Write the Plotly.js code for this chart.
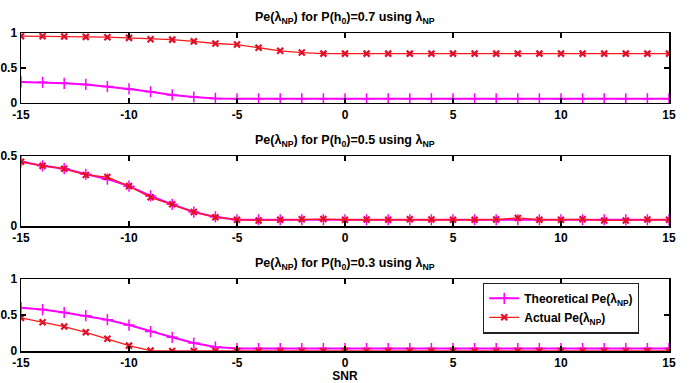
<!DOCTYPE html>
<html>
<head>
<meta charset="utf-8">
<script src="https://cdn.plot.ly/plotly-3.0.1.min.js"></script>
<style>
  html, body { margin: 0; padding: 0; background: #ffffff; }
  #chart { width: 691px; height: 383px; }
</style>
</head>
<body>
<div id="chart"></div>
<script>
// SNR sweep (dB)
const snr = [-15,-14,-13,-12,-11,-10,-9,-8,-7,-6,-5,-4,-3,-2,-1,0,1,2,3,4,5,6,7,8,9,10,11,12,13,14,15];

// P(h0) = 0.7
const theory07 = [0.30,0.295,0.28,0.265,0.235,0.20,0.16,0.115,0.085,0.065,0.06,0.06,0.06,0.06,0.06,0.06,0.06,0.06,0.06,0.06,0.06,0.06,0.06,0.06,0.06,0.06,0.06,0.06,0.06,0.06,0.06];
const actual07 = [0.955,0.955,0.95,0.945,0.94,0.93,0.91,0.905,0.88,0.85,0.835,0.79,0.745,0.72,0.705,0.705,0.705,0.705,0.705,0.705,0.705,0.705,0.705,0.705,0.705,0.705,0.705,0.705,0.705,0.705,0.705];

// P(h0) = 0.5
const theory05 = [0.46,0.43,0.41,0.37,0.335,0.285,0.215,0.155,0.10,0.065,0.045,0.045,0.045,0.045,0.045,0.045,0.045,0.045,0.045,0.045,0.045,0.045,0.045,0.045,0.045,0.045,0.045,0.045,0.045,0.045,0.045];
const actual05 = [0.46,0.43,0.41,0.365,0.35,0.285,0.205,0.155,0.10,0.063,0.045,0.04,0.045,0.048,0.05,0.045,0.046,0.045,0.048,0.046,0.045,0.045,0.046,0.058,0.045,0.045,0.048,0.04,0.04,0.046,0.045];

// P(h0) = 0.3
const theory03 = [0.60,0.575,0.535,0.49,0.435,0.36,0.27,0.19,0.11,0.055,0.035,0.035,0.035,0.035,0.035,0.035,0.035,0.035,0.035,0.035,0.035,0.035,0.035,0.035,0.035,0.035,0.035,0.035,0.035,0.035,0.035];
const actual03 = [0.46,0.40,0.34,0.26,0.17,0.075,0.005,0,0,0,0,0,0,0,0,0,0,0,0,0,0,0,0,0,0,0,0,0,0,0,0];

const xTicks = [-15,-10,-5,0,5,10,15];
const priors = ['0.7','0.5','0.3'];
const theoryName = 'Theoretical Pe(λ<sub>NP</sub>)';
const actualName = 'Actual Pe(λ<sub>NP</sub>)';

const MAGENTA = '#ff00ff';
const RED = '#ff1a1a';
const FONT = 'Liberation Sans, Arial, Helvetica, sans-serif';

function theoryTrace(y, ax, show) {
  return {
    x: snr, y: y, xaxis: 'x' + ax, yaxis: 'y' + ax,
    type: 'scatter', mode: 'lines+markers', name: theoryName, showlegend: show,
    line: { color: MAGENTA, width: 2 },
    marker: { symbol: 'cross-thin', size: 8, line: { color: MAGENTA, width: 1.5 } }
  };
}
function actualTrace(y, ax, show) {
  return {
    x: snr, y: y, xaxis: 'x' + ax, yaxis: 'y' + ax,
    type: 'scatter', mode: 'lines+markers', name: actualName, showlegend: show,
    line: { color: RED, width: 1.3 },
    marker: { symbol: 'x-thin', size: 6, line: { color: '#e0102a', width: 2.2 } }
  };
}

const data = [
  theoryTrace(theory07, '', false), actualTrace(actual07, '', false),
  theoryTrace(theory05, '2', false), actualTrace(actual05, '2', false),
  theoryTrace(theory03, '3', true), actualTrace(actual03, '3', true)
];

const tickFont = { family: FONT, size: 12, color: '#000', weight: 700 };

function xAxis(anchor, withTitle) {
  const a = {
    anchor: anchor, range: [-15, 15], tickvals: xTicks, ticktext: xTicks.map(String),
    showline: true, mirror: 'ticks', linecolor: '#000', linewidth: 1.5,
    ticks: 'inside', ticklen: 5, tickwidth: 1.2, tickcolor: '#000',
    showgrid: false, zeroline: false, tickfont: tickFont, ticklabelstandoff: 0
  };
  if (withTitle) a.title = { text: 'SNR', font: tickFont, standoff: 1 };
  return a;
}
function yAxis(anchor, domain, maxV, vals) {
  return {
    anchor: anchor, domain: domain, range: [0, maxV], tickvals: vals, ticktext: vals.map(String),
    showline: true, mirror: 'ticks', linecolor: '#000', linewidth: 1.5,
    ticks: 'inside', ticklen: 5, tickwidth: 1.2, tickcolor: '#000',
    showgrid: false, zeroline: false, tickfont: tickFont, ticklabelstandoff: 0
  };
}

const domains = [[0.780, 1.0], [0.393, 0.613], [0.0, 0.2264]];

const annotations = priors.map((p, i) => ({
  text: 'Pe(λ<sub>NP</sub>) for P(h<sub>0</sub>)=' + p + ' using λ<sub>NP</sub>',
  xref: 'paper', yref: 'paper', x: 0.5, y: domains[i][1], yshift: 5,
  xanchor: 'center', yanchor: 'bottom', showarrow: false,
  font: { family: FONT, size: 12.5, color: '#000', weight: 700 }
}));

const layout = {
  width: 691, height: 383,
  margin: { l: 21, r: 22, t: 33, b: 32 },
  paper_bgcolor: '#fff', plot_bgcolor: '#fff',
  font: { family: FONT, size: 12, color: '#000' },
  xaxis: xAxis('y', false), xaxis2: xAxis('y2', false), xaxis3: xAxis('y3', true),
  yaxis: yAxis('x', domains[0], 1, [0, 0.5, 1]),
  yaxis2: yAxis('x2', domains[1], 0.5, [0, 0.5]),
  yaxis3: yAxis('x3', domains[2], 1, [0, 0.5, 1]),
  annotations: annotations,
  showlegend: true,
  legend: {
    x: 0.713, y: 0.215, xanchor: 'left', yanchor: 'top',
    bgcolor: '#fff', bordercolor: '#222', borderwidth: 1.2,
    font: { family: FONT, size: 12, color: '#000', weight: 700 },
    itemwidth: 30, tracegroupgap: 0
  }
};

Plotly.newPlot('chart', data, layout, { displayModeBar: false, staticPlot: true });
</script>
</body>
</html>
